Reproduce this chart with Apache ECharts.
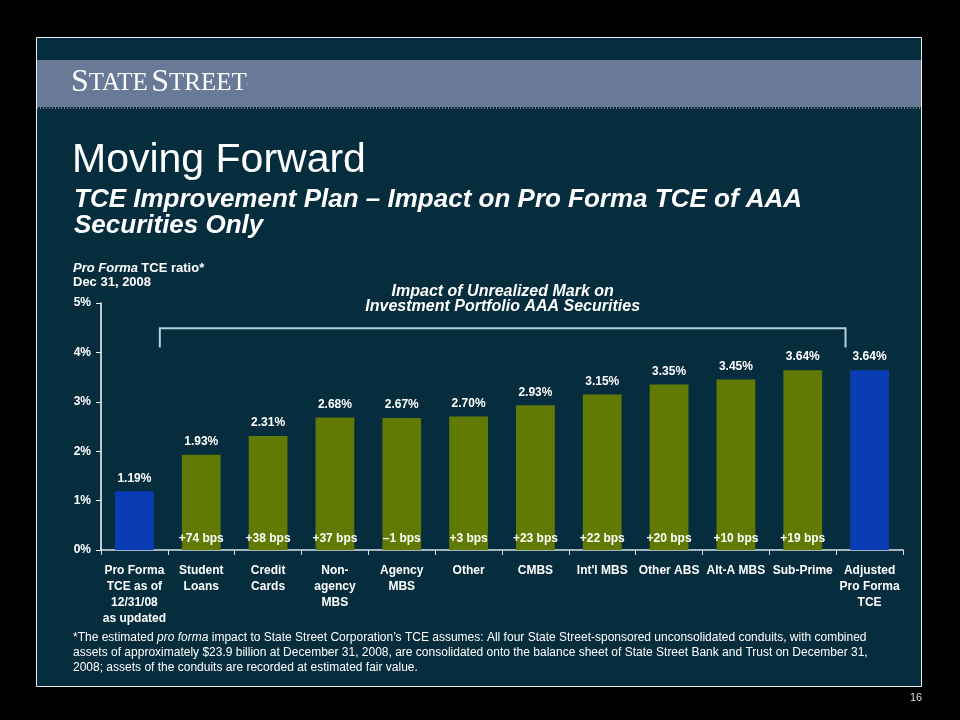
<!DOCTYPE html>
<html><head><meta charset="utf-8">
<script src="https://cdn.jsdelivr.net/npm/echarts@6/dist/echarts.min.js"></script>
<style>html,body{margin:0;padding:0;background:#000}#c{width:960px;height:720px}</style>
</head><body><div id="c"></div>
<script>
var categories = ['Pro Forma\nTCE as of\n12/31/08\nas updated','Student\nLoans','Credit\nCards','Non-\nagency\nMBS','Agency\nMBS','Other','CMBS',"Int'l MBS",'Other ABS','Alt-A MBS','Sub-Prime','Adjusted\nPro Forma\nTCE'];
var tceValues = [1.19,1.93,2.31,2.68,2.67,2.70,2.93,3.15,3.35,3.45,3.64,3.64];
var bpsLabels = ['', '+74 bps','+38 bps','+37 bps','\u20131 bps','+3 bps','+23 bps','+22 bps','+20 bps','+10 bps','+19 bps',''];
var yTicks = [0,1,2,3,4,5];

var FONT = '"Liberation Sans", Arial, sans-serif';
var BLUE = '#0a3db5', OLIVE = '#607a03';
var chart = echarts.init(document.getElementById('c'));

var barData = tceValues.map(function(v,i){
  return {value:v, itemStyle:{color:(i===0||i===tceValues.length-1)?BLUE:OLIVE}};
});

var option = {
  backgroundColor:'#000',
  animation:false,
  grid:{left:101,right:57,top:303,bottom:170},
  xAxis:{type:'category',data:categories,
    axisLine:{lineStyle:{color:'#d8e4ea',width:1.5}},
    axisTick:{show:true,alignWithLabel:false,length:5,lineStyle:{color:'#d8e4ea'}},
    axisLabel:{color:'#fff',fontFamily:FONT,fontWeight:'bold',fontSize:12,lineHeight:16,margin:13,interval:0}
  },
  yAxis:{type:'value',min:yTicks[0],max:yTicks[yTicks.length-1],interval:1,
    axisLine:{show:true,lineStyle:{color:'#fff',width:1.5}},
    axisTick:{show:true,length:5,lineStyle:{color:'#fff'}},
    splitLine:{show:false},
    axisLabel:{color:'#fff',fontFamily:FONT,fontWeight:'bold',fontSize:12,formatter:'{value}%',margin:10}
  },
  series:[
    {type:'bar',data:barData,barWidth:'58%',
     label:{show:true,position:'top',distance:7,color:'#fff',fontFamily:FONT,fontWeight:'bold',fontSize:12,
       formatter:function(p){return p.value.toFixed(2)+'%';}}},
    {type:'bar',data:tceValues,barWidth:'58%',barGap:'-100%',silent:true,
     itemStyle:{color:'rgba(0,0,0,0)'},
     label:{show:true,position:'insideBottom',distance:5,color:'#fff',fontFamily:FONT,fontWeight:'bold',fontSize:12,
       formatter:function(p){return bpsLabels[p.dataIndex];}}}
  ],
  graphic:[]
};
chart.setOption(option);

// bracket computed from the axes
var x1 = chart.convertToPixel({xAxisIndex:0},1);
var x2 = chart.convertToPixel({xAxisIndex:0},2);
var x10 = chart.convertToPixel({xAxisIndex:0},10);
var cw = x2-x1;
var yTop = chart.convertToPixel({yAxisIndex:0},4.49);
var yBot = chart.convertToPixel({yAxisIndex:0},4.1);
var bl = x1-0.62*cw, br = x10+0.64*cw;

var g = [
  {type:'rect',shape:{x:36.5,y:37.5,width:885,height:649},style:{fill:'#062d3d',stroke:'#e8eef2',lineWidth:1},z:-10},
  {type:'rect',shape:{x:37,y:60,width:884,height:47},style:{fill:'#687a98'},z:-9},
  {type:'line',shape:{x1:37,y1:108,x2:921,y2:108},style:{stroke:'#c8d4e0',lineWidth:1,lineDash:[1,2]},z:-8},
  {type:'text',left:71,top:67,z:5,style:{
    text:'{b|S}{s|TATE} {b|S}{s|TREET}{d|.}',
    rich:{b:{fontFamily:'"Liberation Serif", "DejaVu Serif", serif',fontSize:32,fill:'#fff',fontWeight:'normal'},
          s:{fontFamily:'"Liberation Serif", "DejaVu Serif", serif',fontSize:25,fill:'#fff'},
          d:{fontFamily:'"Liberation Serif", serif',fontSize:8,fill:'#fff'}}}},
  {type:'text',left:72,top:140,style:{text:'Moving Forward',fill:'#fff',font:'normal 41px '+FONT}},
  {type:'text',left:74,top:187,style:{text:'TCE Improvement Plan \u2013 Impact on Pro Forma TCE of AAA\nSecurities Only',fill:'#fff',font:'italic bold 26px '+FONT,lineHeight:26}},
  {type:'text',left:73,top:262,style:{text:'{i|Pro Forma} {n|TCE ratio*}\n{n|Dec 31, 2008}',
    rich:{i:{fill:'#fff',fontFamily:FONT,fontStyle:'italic',fontWeight:'bold',fontSize:13,lineHeight:14},
          n:{fill:'#fff',fontFamily:FONT,fontWeight:'bold',fontSize:13,lineHeight:14}}}},
  {type:'text',x:(bl+br)/2,y:284,style:{text:'Impact of Unrealized Mark on\nInvestment Portfolio AAA Securities',fill:'#fff',
    font:'italic bold 16px '+FONT,lineHeight:15,align:'center'}},
  {type:'polyline',shape:{points:[[bl,yBot],[bl,yTop],[br,yTop],[br,yBot]]},style:{stroke:'#b4d0dc',lineWidth:2,fill:null}},
  {type:'text',left:73,top:632,style:{text:'{n|*The estimated }{i|pro forma}{n| impact to State Street Corporation\u2019s TCE assumes: All four State Street-sponsored unconsolidated conduits, with combined}\n{n|assets of approximately $23.9 billion at December 31, 2008, are consolidated onto the balance sheet of State Street Bank and Trust on December 31,}\n{n|2008; assets of the conduits are recorded at estimated fair value.}',
    rich:{n:{fill:'#fff',fontFamily:FONT,fontSize:12,lineHeight:15},i:{fill:'#fff',fontFamily:FONT,fontSize:12,fontStyle:'italic',lineHeight:15}}}},
  {type:'text',left:910,top:692,style:{text:'16',fill:'#ddd',font:'11px '+FONT}}
];
chart.setOption({graphic:g});
</script></body></html>
